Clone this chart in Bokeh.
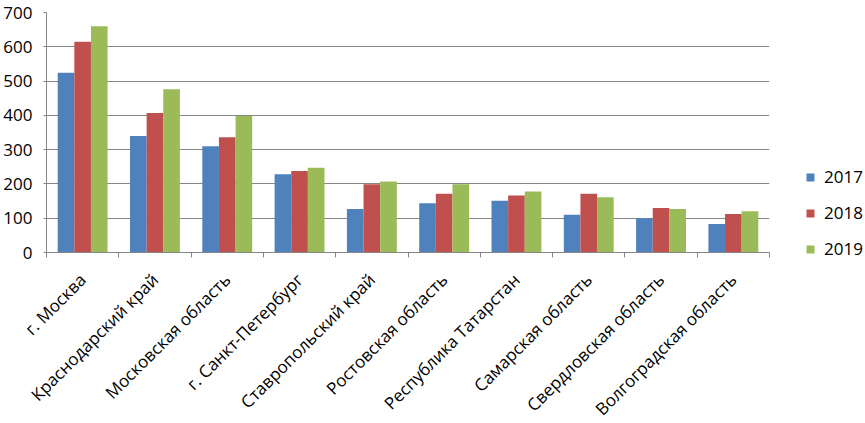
import numpy as np
from bokeh.plotting import figure
from bokeh.models import (ColumnDataSource, Range1d, FixedTicker, Legend, LegendItem)
from bokeh.embed import file_html
from bokeh.resources import INLINE

regions = ["г. Москва", "Краснодарский край", "Московская область", "г. Санкт-Петербург",
           "Ставропольский край", "Ростовская область", "Республика Татарстан",
           "Самарская область", "Свердловская область", "Волгоградская область"]
years = ["2017", "2018", "2019"]
v2017 = [524, 340, 310, 228, 127, 144, 151, 110, 100, 83]
v2018 = [615, 407, 336, 238, 199, 171, 166, 171, 130, 112]
v2019 = [660, 476, 398, 247, 207, 199, 178, 161, 127, 120]
y_ticks = [0, 100, 200, 300, 400, 500, 600, 700]

colors = ["#4F81BD", "#C0504D", "#9BBB59"]
FONT = "Open Sans"
FS = "17px"

n = len(regions)
centers = np.arange(n) + 0.5
bw = 0.23

p = figure(frame_width=723, frame_height=240, output_backend="svg", toolbar_location=None,
           x_range=Range1d(0, n), y_range=Range1d(0, 700),
           min_border_left=43, min_border_top=12, min_border_bottom=154, min_border_right=83)
p.outline_line_color = None
p.background_fill_color = "white"
p.border_fill_color = "white"

renderers = []
for vals, off, c in zip([v2017, v2018, v2019], [-bw, 0.0, bw], colors):
    src = ColumnDataSource(dict(x=centers + off, top=vals))
    r = p.vbar(x="x", top="top", width=bw, source=src, fill_color=c, line_color=None)
    renderers.append(r)

# x axis
p.xaxis.ticker = FixedTicker(ticks=list(centers), minor_ticks=list(range(n + 1)))
p.xaxis.major_label_overrides = {float(c): r for c, r in zip(centers, regions)}
p.xaxis.major_label_orientation = np.pi / 4
p.xaxis.major_tick_line_color = None
p.xaxis.minor_tick_line_color = "#868686"
p.xaxis.minor_tick_out = 5
p.xaxis.minor_tick_in = 0
p.xaxis.axis_line_color = "#868686"
p.xaxis.major_label_text_font = FONT
p.xaxis.major_label_text_font_size = FS
p.xaxis.major_label_text_color = "black"
p.xaxis.major_label_standoff = 18
p.xgrid.grid_line_color = None

# y axis
p.yaxis.ticker = FixedTicker(ticks=y_ticks)
p.yaxis.minor_tick_line_color = None
p.yaxis.major_tick_line_color = "#868686"
p.yaxis.major_tick_out = 3
p.yaxis.major_tick_in = 0
p.yaxis.axis_line_color = "#868686"
p.yaxis.major_label_text_font = FONT
p.yaxis.major_label_text_font_size = FS
p.yaxis.major_label_text_color = "black"
p.yaxis.major_label_standoff = 11
p.ygrid.grid_line_color = "#868686"
p.ygrid.grid_line_width = 1.2

legend = Legend(items=[LegendItem(label=y, renderers=[r]) for y, r in zip(years, renderers)],
                location=(36, -8), orientation="vertical",
                label_text_font=FONT, label_text_font_size=FS, label_text_color="black",
                glyph_width=10, glyph_height=10, label_height=20, spacing=13,
                label_standoff=9, padding=0, margin=0, border_line_color=None,
                background_fill_alpha=0)
p.add_layout(legend, "right")

open("out.html", "w").write(file_html(p, INLINE))
